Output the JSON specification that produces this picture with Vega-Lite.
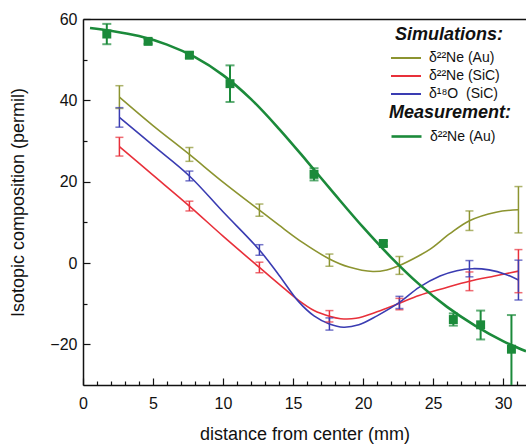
{
  "$schema": "https://vega.github.io/schema/vega-lite/v6.json",
  "width": 443,
  "height": 366,
  "autosize": "none",
  "padding": {"left": 83, "top": 19, "right": 0, "bottom": 61},
  "background": "white",
  "config": {
    "view": {"stroke": null},
    "font": "Liberation Sans",
    "axis": {"domainColor": "#111", "domainWidth": 1.5, "tickColor": "#111", "tickWidth": 1.2, "labelColor": "#111", "titleColor": "#111", "labelFont": "Liberation Sans", "titleFont": "Liberation Sans", "grid": false},
    "legend": {"labelFont": "Liberation Sans", "titleFont": "Liberation Sans", "labelColor": "#111", "titleColor": "#111"}
  },
  "datasets": {
    "curves": [
      {"g": "sim", "s": "δ²²Ne (Au)", "x": 2.6, "y": 40.8},
      {"g": "sim", "s": "δ²²Ne (Au)", "x": 5, "y": 33.8},
      {"g": "sim", "s": "δ²²Ne (Au)", "x": 7.6, "y": 26.7},
      {"g": "sim", "s": "δ²²Ne (Au)", "x": 10, "y": 19.9},
      {"g": "sim", "s": "δ²²Ne (Au)", "x": 12.6, "y": 13.0},
      {"g": "sim", "s": "δ²²Ne (Au)", "x": 14, "y": 9.3},
      {"g": "sim", "s": "δ²²Ne (Au)", "x": 15.7, "y": 5.0},
      {"g": "sim", "s": "δ²²Ne (Au)", "x": 17.6, "y": 1.0},
      {"g": "sim", "s": "δ²²Ne (Au)", "x": 19, "y": -1.0},
      {"g": "sim", "s": "δ²²Ne (Au)", "x": 20.7, "y": -2.1},
      {"g": "sim", "s": "δ²²Ne (Au)", "x": 21.7, "y": -1.7},
      {"g": "sim", "s": "δ²²Ne (Au)", "x": 22.6, "y": -0.6},
      {"g": "sim", "s": "δ²²Ne (Au)", "x": 24, "y": 1.8},
      {"g": "sim", "s": "δ²²Ne (Au)", "x": 24.8, "y": 3.4},
      {"g": "sim", "s": "δ²²Ne (Au)", "x": 26.2, "y": 7.2},
      {"g": "sim", "s": "δ²²Ne (Au)", "x": 27.6, "y": 10.4},
      {"g": "sim", "s": "δ²²Ne (Au)", "x": 29.5, "y": 12.5},
      {"g": "sim", "s": "δ²²Ne (Au)", "x": 31.1, "y": 13.1},
      {"g": "sim", "s": "δ²²Ne (SiC)", "x": 2.6, "y": 28.6},
      {"g": "sim", "s": "δ²²Ne (SiC)", "x": 5, "y": 21.6},
      {"g": "sim", "s": "δ²²Ne (SiC)", "x": 7.6, "y": 14.0},
      {"g": "sim", "s": "δ²²Ne (SiC)", "x": 10, "y": 6.6},
      {"g": "sim", "s": "δ²²Ne (SiC)", "x": 12.6, "y": -1.1},
      {"g": "sim", "s": "δ²²Ne (SiC)", "x": 14, "y": -5.2},
      {"g": "sim", "s": "δ²²Ne (SiC)", "x": 15.4, "y": -9.2},
      {"g": "sim", "s": "δ²²Ne (SiC)", "x": 16.5, "y": -11.7},
      {"g": "sim", "s": "δ²²Ne (SiC)", "x": 17.6, "y": -13.1},
      {"g": "sim", "s": "δ²²Ne (SiC)", "x": 18.4, "y": -13.7},
      {"g": "sim", "s": "δ²²Ne (SiC)", "x": 19.5, "y": -13.6},
      {"g": "sim", "s": "δ²²Ne (SiC)", "x": 21, "y": -12.0},
      {"g": "sim", "s": "δ²²Ne (SiC)", "x": 22.6, "y": -9.9},
      {"g": "sim", "s": "δ²²Ne (SiC)", "x": 24, "y": -8.0},
      {"g": "sim", "s": "δ²²Ne (SiC)", "x": 25.8, "y": -6.2},
      {"g": "sim", "s": "δ²²Ne (SiC)", "x": 27.6, "y": -4.5},
      {"g": "sim", "s": "δ²²Ne (SiC)", "x": 29.4, "y": -3.2},
      {"g": "sim", "s": "δ²²Ne (SiC)", "x": 31.1, "y": -2.0},
      {"g": "sim", "s": "δ¹⁸O\u00a0 (SiC)", "x": 2.6, "y": 35.8},
      {"g": "sim", "s": "δ¹⁸O\u00a0 (SiC)", "x": 5, "y": 28.9},
      {"g": "sim", "s": "δ¹⁸O\u00a0 (SiC)", "x": 7.6, "y": 21.4},
      {"g": "sim", "s": "δ¹⁸O\u00a0 (SiC)", "x": 10, "y": 12.6},
      {"g": "sim", "s": "δ¹⁸O\u00a0 (SiC)", "x": 12.6, "y": 3.2},
      {"g": "sim", "s": "δ¹⁸O\u00a0 (SiC)", "x": 14, "y": -3.0},
      {"g": "sim", "s": "δ¹⁸O\u00a0 (SiC)", "x": 15.4, "y": -9.5},
      {"g": "sim", "s": "δ¹⁸O\u00a0 (SiC)", "x": 16.5, "y": -13.0},
      {"g": "sim", "s": "δ¹⁸O\u00a0 (SiC)", "x": 17.6, "y": -15.0},
      {"g": "sim", "s": "δ¹⁸O\u00a0 (SiC)", "x": 18.6, "y": -15.8},
      {"g": "sim", "s": "δ¹⁸O\u00a0 (SiC)", "x": 19.7, "y": -15.2},
      {"g": "sim", "s": "δ¹⁸O\u00a0 (SiC)", "x": 21, "y": -13.0},
      {"g": "sim", "s": "δ¹⁸O\u00a0 (SiC)", "x": 22.6, "y": -9.7},
      {"g": "sim", "s": "δ¹⁸O\u00a0 (SiC)", "x": 24, "y": -6.0},
      {"g": "sim", "s": "δ¹⁸O\u00a0 (SiC)", "x": 25.5, "y": -3.2},
      {"g": "sim", "s": "δ¹⁸O\u00a0 (SiC)", "x": 26.7, "y": -1.9},
      {"g": "sim", "s": "δ¹⁸O\u00a0 (SiC)", "x": 27.8, "y": -1.4},
      {"g": "sim", "s": "δ¹⁸O\u00a0 (SiC)", "x": 29, "y": -1.7},
      {"g": "sim", "s": "δ¹⁸O\u00a0 (SiC)", "x": 30.2, "y": -2.8},
      {"g": "sim", "s": "δ¹⁸O\u00a0 (SiC)", "x": 31.1, "y": -4.2},
      {"g": "meas", "s": "δ²²Ne (Au)", "x": 0.5, "y": 57.8},
      {"g": "meas", "s": "δ²²Ne (Au)", "x": 2, "y": 57.1},
      {"g": "meas", "s": "δ²²Ne (Au)", "x": 4, "y": 55.8},
      {"g": "meas", "s": "δ²²Ne (Au)", "x": 6, "y": 53.7},
      {"g": "meas", "s": "δ²²Ne (Au)", "x": 8, "y": 50.6},
      {"g": "meas", "s": "δ²²Ne (Au)", "x": 10, "y": 46.2},
      {"g": "meas", "s": "δ²²Ne (Au)", "x": 12, "y": 40.3},
      {"g": "meas", "s": "δ²²Ne (Au)", "x": 14, "y": 33.0},
      {"g": "meas", "s": "δ²²Ne (Au)", "x": 16, "y": 25.0},
      {"g": "meas", "s": "δ²²Ne (Au)", "x": 18, "y": 16.8},
      {"g": "meas", "s": "δ²²Ne (Au)", "x": 20, "y": 8.8},
      {"g": "meas", "s": "δ²²Ne (Au)", "x": 22, "y": 1.4},
      {"g": "meas", "s": "δ²²Ne (Au)", "x": 24, "y": -5.2},
      {"g": "meas", "s": "δ²²Ne (Au)", "x": 26, "y": -10.8},
      {"g": "meas", "s": "δ²²Ne (Au)", "x": 28, "y": -15.4},
      {"g": "meas", "s": "δ²²Ne (Au)", "x": 30, "y": -19.2},
      {"g": "meas", "s": "δ²²Ne (Au)", "x": 31.64, "y": -21.7}
    ],
    "points": [
      {"g": "sim", "s": "δ²²Ne (Au)", "x": 2.6, "lo": 38.0, "hi": 43.6},
      {"g": "sim", "s": "δ²²Ne (Au)", "x": 7.6, "lo": 25.0, "hi": 28.4},
      {"g": "sim", "s": "δ²²Ne (Au)", "x": 12.6, "lo": 11.5, "hi": 14.5},
      {"g": "sim", "s": "δ²²Ne (Au)", "x": 17.6, "lo": -0.8, "hi": 2.2},
      {"g": "sim", "s": "δ²²Ne (Au)", "x": 22.6, "lo": -2.8, "hi": 1.6},
      {"g": "sim", "s": "δ²²Ne (Au)", "x": 27.6, "lo": 8.0, "hi": 12.8},
      {"g": "sim", "s": "δ²²Ne (Au)", "x": 31.1, "lo": 7.4, "hi": 18.8},
      {"g": "sim", "s": "δ²²Ne (SiC)", "x": 2.6, "lo": 26.3, "hi": 30.9},
      {"g": "sim", "s": "δ²²Ne (SiC)", "x": 7.6, "lo": 12.8, "hi": 15.2},
      {"g": "sim", "s": "δ²²Ne (SiC)", "x": 12.6, "lo": -2.4, "hi": 0.2},
      {"g": "sim", "s": "δ²²Ne (SiC)", "x": 17.6, "lo": -14.5, "hi": -11.7},
      {"g": "sim", "s": "δ²²Ne (SiC)", "x": 22.6, "lo": -11.5, "hi": -8.7},
      {"g": "sim", "s": "δ²²Ne (SiC)", "x": 27.6, "lo": -6.8, "hi": -2.2},
      {"g": "sim", "s": "δ²²Ne (SiC)", "x": 31.1, "lo": -7.3, "hi": 3.3},
      {"g": "sim", "s": "δ¹⁸O\u00a0 (SiC)", "x": 2.6, "lo": 33.4, "hi": 38.2},
      {"g": "sim", "s": "δ¹⁸O\u00a0 (SiC)", "x": 7.6, "lo": 20.2, "hi": 22.6},
      {"g": "sim", "s": "δ¹⁸O\u00a0 (SiC)", "x": 12.6, "lo": 1.9, "hi": 4.5},
      {"g": "sim", "s": "δ¹⁸O\u00a0 (SiC)", "x": 17.6, "lo": -16.5, "hi": -13.5},
      {"g": "sim", "s": "δ¹⁸O\u00a0 (SiC)", "x": 22.6, "lo": -11.2, "hi": -8.2},
      {"g": "sim", "s": "δ¹⁸O\u00a0 (SiC)", "x": 27.6, "lo": -3.4, "hi": 0.6},
      {"g": "sim", "s": "δ¹⁸O\u00a0 (SiC)", "x": 31.1, "lo": -9.1, "hi": 0.7},
      {"g": "meas", "s": "δ²²Ne (Au)", "x": 1.7, "y": 56.3, "lo": 53.8, "hi": 58.8},
      {"g": "meas", "s": "δ²²Ne (Au)", "x": 4.65, "y": 54.5, "lo": 53.9, "hi": 55.1},
      {"g": "meas", "s": "δ²²Ne (Au)", "x": 7.6, "y": 51.1, "lo": 50.4, "hi": 51.8},
      {"g": "meas", "s": "δ²²Ne (Au)", "x": 10.5, "y": 44.1, "lo": 39.6, "hi": 48.6},
      {"g": "meas", "s": "δ²²Ne (Au)", "x": 16.5, "y": 21.8, "lo": 20.3, "hi": 23.3},
      {"g": "meas", "s": "δ²²Ne (Au)", "x": 21.45, "y": 4.8, "lo": 4.2, "hi": 5.4},
      {"g": "meas", "s": "δ²²Ne (Au)", "x": 26.45, "y": -13.9, "lo": -15.4, "hi": -12.4},
      {"g": "meas", "s": "δ²²Ne (Au)", "x": 28.4, "y": -15.2, "lo": -18.8, "hi": -11.7},
      {"g": "meas", "s": "δ²²Ne (Au)", "x": 30.6, "y": -21.2, "lo": -31.0, "hi": -12.8}
    ]
  },
  "resolve": {"scale": {"color": "independent"}, "axis": {"x": "independent", "y": "independent"}},
  "layer": [
    {
      "data": {"name": "curves"},
      "transform": [{"filter": "datum.g === 'sim'"}],
      "mark": {"type": "line", "interpolate": "catmull-rom", "strokeWidth": 1.6, "clip": true},
      "encoding": {
        "x": {"field": "x", "type": "quantitative", "scale": {"domain": [0, 31.64], "nice": false, "zero": false},
          "axis": {"orient": "bottom", "values": [0, 5, 10, 15, 20, 25, 30], "tickSize": -7, "labelPadding": 17, "labelFontSize": 16, "title": "distance from center (mm)", "titleFontSize": 18, "titleFontWeight": "normal", "titlePadding": 14, "labelFlush": false}},
        "y": {"field": "y", "type": "quantitative", "scale": {"domain": [-30, 60], "nice": false, "zero": false},
          "axis": {"orient": "left", "values": [-20, 0, 20, 40, 60], "tickSize": -7, "labelPadding": 13, "labelFontSize": 16, "title": "Isotopic composition (permil)", "titleFontSize": 18, "titleFontWeight": "normal", "titlePadding": 22, "labelFlush": false}},
        "color": {"field": "s", "type": "nominal",
          "scale": {"domain": ["δ²²Ne (Au)", "δ²²Ne (SiC)", "δ¹⁸O\u00a0 (SiC)"], "range": ["#8c9430", "#e8303a", "#3a3cb2"]},
          "legend": {"title": "Simulations:", "orient": "none", "legendX": 312, "legendY": 7, "padding": 0, "titleFontStyle": "italic", "titleFontWeight": "bold", "titleFontSize": 18, "titlePadding": 3, "labelFontSize": 14, "symbolType": "M-1.5,0H1.5", "symbolSize": 400, "symbolStrokeWidth": 2, "rowPadding": -2, "labelOffset": 12}}
      }
    },
    {
      "data": {"name": "points"},
      "transform": [{"filter": "datum.g === 'sim'"}],
      "mark": {"type": "rule", "strokeWidth": 1.5, "clip": true},
      "encoding": {
        "x": {"field": "x", "type": "quantitative", "scale": {"domain": [0, 31.64], "nice": false, "zero": false},
          "axis": {"orient": "bottom", "values": [1, 2, 3, 4, 6, 7, 8, 9, 11, 12, 13, 14, 16, 17, 18, 19, 21, 22, 23, 24, 26, 27, 28, 29, 31], "tickSize": -4, "labels": false, "domain": false, "title": null}},
        "y": {"field": "lo", "type": "quantitative", "scale": {"domain": [-30, 60], "nice": false, "zero": false},
          "axis": {"orient": "left", "values": [-10, 10, 30, 50], "tickSize": -4, "labels": false, "domain": false, "title": null}},
        "y2": {"field": "hi"},
        "color": {"field": "s", "type": "nominal", "scale": {"domain": ["δ²²Ne (Au)", "δ²²Ne (SiC)", "δ¹⁸O\u00a0 (SiC)"], "range": ["#8c9430", "#e8303a", "#3a3cb2"]}, "legend": null}
      }
    },
    {
      "data": {"name": "points"},
      "transform": [{"filter": "datum.g === 'sim'"}],
      "mark": {"type": "tick", "orient": "horizontal", "size": 8, "thickness": 1.5, "clip": true},
      "encoding": {
        "x": {"field": "x", "type": "quantitative", "scale": {"domain": [0, 31.64], "nice": false, "zero": false},
          "axis": {"orient": "top", "labels": false, "ticks": false, "domain": true, "title": null}},
        "y": {"field": "lo", "type": "quantitative", "scale": {"domain": [-30, 60], "nice": false, "zero": false}, "axis": null},
        "color": {"field": "s", "type": "nominal", "scale": {"domain": ["δ²²Ne (Au)", "δ²²Ne (SiC)", "δ¹⁸O\u00a0 (SiC)"], "range": ["#8c9430", "#e8303a", "#3a3cb2"]}, "legend": null}
      }
    },
    {
      "data": {"name": "points"},
      "transform": [{"filter": "datum.g === 'sim'"}],
      "mark": {"type": "tick", "orient": "horizontal", "size": 8, "thickness": 1.5, "clip": true},
      "encoding": {
        "x": {"field": "x", "type": "quantitative", "scale": {"domain": [0, 31.64], "nice": false, "zero": false}, "axis": null},
        "y": {"field": "hi", "type": "quantitative", "scale": {"domain": [-30, 60], "nice": false, "zero": false}, "axis": null},
        "color": {"field": "s", "type": "nominal", "scale": {"domain": ["δ²²Ne (Au)", "δ²²Ne (SiC)", "δ¹⁸O\u00a0 (SiC)"], "range": ["#8c9430", "#e8303a", "#3a3cb2"]}, "legend": null}
      }
    },
    {
      "data": {"name": "curves"},
      "transform": [{"filter": "datum.g === 'meas'"}],
      "mark": {"type": "line", "interpolate": "catmull-rom", "strokeWidth": 2.6, "clip": true},
      "encoding": {
        "x": {"field": "x", "type": "quantitative", "scale": {"domain": [0, 31.64], "nice": false, "zero": false}, "axis": null},
        "y": {"field": "y", "type": "quantitative", "scale": {"domain": [-30, 60], "nice": false, "zero": false}, "axis": null},
        "color": {"field": "s", "type": "nominal", "scale": {"domain": ["δ²²Ne (Au)"], "range": ["#1b8a3a"]},
          "legend": {"title": "Measurement:", "orient": "none", "legendX": 306, "legendY": 85, "padding": 0, "titleFontStyle": "italic", "titleFontWeight": "bold", "titleFontSize": 18, "titlePadding": 3, "labelFontSize": 14, "symbolType": "M-1.5,0H1.5", "symbolSize": 400, "symbolStrokeWidth": 2.6, "symbolOffset": 6, "labelOffset": 12}}
      }
    },
    {
      "data": {"name": "points"},
      "transform": [{"filter": "datum.g === 'meas'"}],
      "mark": {"type": "rule", "strokeWidth": 2, "color": "#1b8a3a", "clip": true},
      "encoding": {
        "x": {"field": "x", "type": "quantitative", "scale": {"domain": [0, 31.64], "nice": false, "zero": false}, "axis": null},
        "y": {"field": "lo", "type": "quantitative", "scale": {"domain": [-30, 60], "nice": false, "zero": false}, "axis": null},
        "y2": {"field": "hi"}
      }
    },
    {
      "data": {"name": "points"},
      "transform": [{"filter": "datum.g === 'meas'"}],
      "mark": {"type": "tick", "orient": "horizontal", "size": 9, "thickness": 2, "color": "#1b8a3a", "clip": true},
      "encoding": {
        "x": {"field": "x", "type": "quantitative", "scale": {"domain": [0, 31.64], "nice": false, "zero": false}, "axis": null},
        "y": {"field": "lo", "type": "quantitative", "scale": {"domain": [-30, 60], "nice": false, "zero": false}, "axis": null}
      }
    },
    {
      "data": {"name": "points"},
      "transform": [{"filter": "datum.g === 'meas'"}],
      "mark": {"type": "tick", "orient": "horizontal", "size": 9, "thickness": 2, "color": "#1b8a3a", "clip": true},
      "encoding": {
        "x": {"field": "x", "type": "quantitative", "scale": {"domain": [0, 31.64], "nice": false, "zero": false}, "axis": null},
        "y": {"field": "hi", "type": "quantitative", "scale": {"domain": [-30, 60], "nice": false, "zero": false}, "axis": null}
      }
    },
    {
      "data": {"name": "points"},
      "transform": [{"filter": "datum.g === 'meas'"}],
      "mark": {"type": "point", "shape": "square", "filled": true, "size": 80, "opacity": 1, "color": "#1b8a3a", "clip": true},
      "encoding": {
        "x": {"field": "x", "type": "quantitative", "scale": {"domain": [0, 31.64], "nice": false, "zero": false}, "axis": null},
        "y": {"field": "y", "type": "quantitative", "scale": {"domain": [-30, 60], "nice": false, "zero": false}, "axis": null}
      }
    }
  ]
}
